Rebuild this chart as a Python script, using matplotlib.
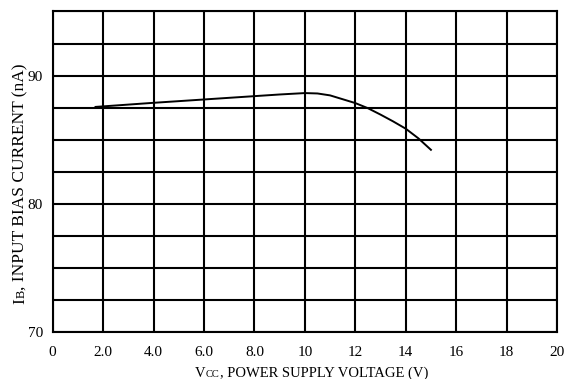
import matplotlib
matplotlib.use("Agg")
import matplotlib.pyplot as plt

# supply voltage (V) and input bias current (nA)
vcc = [1.7, 4.0, 6.0, 8.0, 9.0, 10.0, 10.5, 11.0, 12.0, 12.5, 13.0, 13.5, 14.0, 14.5, 15.0]
ib = [87.55, 87.87, 88.13, 88.39, 88.52, 88.63, 88.60, 88.45, 87.85, 87.45, 86.95, 86.42, 85.85, 85.1, 84.2]

x_ticks = [0, 2, 4, 6, 8, 10, 12, 14, 16, 18, 20]
x_labels = ["0", "2.0", "4.0", "6.0", "8.0", "10", "12", "14", "16", "18", "20"]
y_grid = [70, 72.5, 75, 77.5, 80, 82.5, 85, 87.5, 90, 92.5, 95]
y_labels = ["70", "", "", "", "80", "", "", "", "90", "", ""]

plt.rcParams["font.family"] = ["Liberation Serif", "DejaVu Serif"]

W, H = 572, 379
fig = plt.figure(figsize=(W / 100, H / 100), dpi=100)
ax = fig.add_axes([0.0921, 0.1248, 0.8817, 0.8449])

ax.plot(vcc, ib, color="black", linewidth=1.4, zorder=3)

ax.set_xlim(0, 20)
ax.set_ylim(70, 95)
ax.set_xticks(x_ticks)
ax.set_xticklabels(x_labels)
ax.set_yticks(y_grid)
ax.set_yticklabels(y_labels)
ax.tick_params(length=0, labelsize=11)
ax.tick_params(axis="x", pad=10)
ax.tick_params(axis="y", pad=7)
ax.grid(True, color="black", linewidth=1.5)
for s in ax.spines.values():
    s.set_linewidth(1.5)


def label_parts(parts, cx, cy, vertical=False):
    """Lay out text pieces of different sizes on one baseline, centred at (cx, cy) px."""
    r = fig.canvas.get_renderer()
    texts = []
    pos = 0.0
    for txt, size in parts:
        if vertical:
            t = fig.text(cx / W, (H - pos) / H, txt, fontsize=size, rotation=90,
                         ha="left", va="baseline", rotation_mode="anchor")
            pos += t.get_window_extent(r).height
        else:
            t = fig.text(pos / W, cy, txt, fontsize=size, ha="left", va="baseline")
            pos += t.get_window_extent(r).width
        texts.append(t)
    # shift the group so it is centred
    acc = 0.0
    for t in texts:
        if vertical:
            h = t.get_window_extent(r).height
            t.set_position((cx / W, (H - cy) / H - pos / 2 / H + acc / H))
            acc += h
        else:
            w = t.get_window_extent(r).width
            t.set_position(((cx - pos / 2 + acc) / W, (H - cy) / H))
            acc += w


fig.canvas.draw()
label_parts([("V", 10.5), ("CC", 7.5), (", POWER SUPPLY VOLTAGE (V)", 10.5)], 311.5, 377)
label_parts([("I", 12.5), ("B", 9), (", INPUT BIAS CURRENT (nA)", 12.5)], 24.5, 183.5, vertical=True)

fig.savefig("out.png", dpi=100)
